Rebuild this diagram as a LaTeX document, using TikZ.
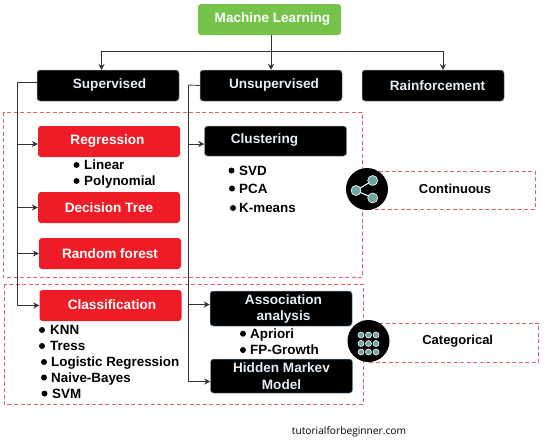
\documentclass[tikz,border=0pt]{standalone}
\usepackage{fontspec}
\setmainfont{Liberation Sans}
\newfontfamily\sitefont{Open Sans}
\usepackage{xcolor}
\usetikzlibrary{arrows.meta}
\definecolor{mlgreen}{HTML}{76C34A}
\definecolor{mlred}{HTML}{EE1C27}
\definecolor{mledge}{HTML}{7F9DB5}
\definecolor{mldash}{HTML}{E0636C}
\definecolor{mlteal}{HTML}{6FA5A5}
\definecolor{mltext}{HTML}{E4EDF7}
\definecolor{mlline}{HTML}{333333}
\tikzset{
  boxtext/.style={font=\fontsize{13.6}{16.5}\selectfont\bfseries, align=center},
  basebox/.style={boxtext, rounded corners=3pt, minimum width=142pt, minimum height=31pt, inner sep=0pt},
  blackbox/.style={basebox, fill=black, draw=mledge, line width=0.5pt, text=mltext},
  redbox/.style={basebox, fill=mlred, text=white},
  greenbox/.style={basebox, fill=mlgreen, text=white},
  itemtext/.style={font=\fontsize{13.4}{15}\selectfont\bfseries, anchor=west, inner sep=0pt, text height=12.5pt, text depth=3pt},
  sidetext/.style={font=\fontsize{13}{15}\selectfont\bfseries, inner sep=0pt},
  frame/.style={mldash, dashed, dash pattern=on 4pt off 2.5pt, line width=0.8pt},
  link/.style={mlline, line width=0.8pt},
  linkto/.style={link, -{Stealth[length=6pt,width=6pt]}},
  icondisc/.style={circle, fill=black, minimum size=42pt, inner sep=0pt},
  icondot/.style={circle, fill=mlteal, draw=white, line width=0.6pt, inner sep=0pt},
}
\begin{document}
\begin{tikzpicture}[x=1pt, y=-1pt]
  \useasboundingbox (0,0) rectangle (553,440);

  % dashed frames
  \draw[frame] (3,112) rectangle (362,277);
  \draw[frame] (4,284) rectangle (363,404);
  \draw[frame] (367,171) rectangle (535,209);
  \draw[frame] (369,323) rectangle (538.5,362);

  % boxes
  \node[greenbox, minimum width=143pt] (machine) at (269.5,19.5) {};
  \node[boxtext, text=white] (machinelabel) at (272.5,19.5) {Machine Learning};
  \node[blackbox] (supervised) at (108,85.5) {};
  \node[boxtext, text=mltext] (suplabel) at (109.5,85) {Supervised};
  \node[blackbox] (unsupervised) at (271,85.5) {};
  \node[boxtext, text=mltext] (unsuplabel) at (274,84.5) {Unsupervised};
  \node[blackbox] (rainforcement) at (433,85.5) {};
  \node[boxtext, text=mltext] (rainlabel) at (437.5,86) {Rainforcement};
  \node[redbox] (regression) at (109,141.5) {};
  \node[boxtext, text=white] (reglabel) at (107.5,141.5) {Regression};
  \node[redbox] (decision) at (109,207.5) {Decision Tree};
  \node[redbox] (forest) at (110,253.5) {Random forest};
  \node[redbox] (classification) at (110.5,305.5) {};
  \node[boxtext, text=white] (classlabel) at (112,305) {Classification};
  \node[blackbox, minimum height=30pt] (clustering) at (275.5,141) {};
  \node[boxtext, text=mltext] (clusterlabel) at (264.5,140.5) {Clustering};
  \node[blackbox, minimum height=35pt] (association) at (281,308.5) {};
  \node[boxtext, text=mltext] (assoclabel) at (283.5,309) {Association\\analysis};
  \node[blackbox, minimum height=34pt] (hidden) at (281.5,376) {Hidden Markev\\Model};

  % connectors
  \coordinate (supspine) at (17,82);
  \coordinate (unsspine) at (188,85);
  \coordinate (topbar) at (271,51.5);
  \draw[linkto] (machine.south -| topbar) -- (unsupervised.north -| topbar);
  \draw[linkto] (topbar) -- ++(-169.5,0) -- ++(0,18.5);
  \draw[linkto] (topbar) -- ++(172,0) -- ++(0,18.5);
  \draw[link] ([yshift=3.5pt]supervised.west) -- (supspine) -- (supspine |- classification.west);
  \draw[linkto] (supspine |- classification.west) -- (classification.west);
  \draw[linkto] (supspine |- forest.west) -- (forest.west);
  \draw[linkto] (supspine |- decision.west) -- (decision.west);
  \draw[linkto] (supspine |- 0,144) -- ([yshift=-2.5pt]regression.west);
  \draw[link] (unsupervised.west) -- (unsspine);
  \draw[linkto] (unsspine) |- ([yshift=-5.5pt]hidden.west);
  \draw[linkto] (unsspine |- 0,144) -- ([yshift=-3pt]clustering.west);
  \draw[linkto] (unsspine |- 0,304.5) -- ([yshift=4pt]association.west);

  % bullet lists
  \foreach \bx/\by/\tx/\lab/\name in {
    76.5/165/84/Linear/linear, 76.5/181/84/Polynomial/polynomial,
    231.5/170.5/239/SVD/svd, 232/188.5/239/PCA/pca, 233/208/239/K-means/kmeans,
    42/330/50/KNN/knn, 42/346/50/Tress/tress, 44/362/51/Logistic Regression/logistic,
    44/377.5/51/Naive-Bayes/naive, 44.5/393.5/52/SVM/svm,
    243/333.7/250/Apriori/apriori, 243/350/250/FP-Growth/fpgrowth}{
    \fill (\bx,\by) circle (3pt);
    \node[itemtext] (\name) at (\tx,\by) {\lab};
  }

  % side labels
  \node[sidetext] (continuous) at (455,188.5) {Continuous};
  \node[sidetext] (categorical) at (457.7,341) {Categorical};
  \node[inner sep=0pt, font=\fontsize{10.2}{12}\sitefont] (site) at (349,432) {tutorialforbeginner.com};

  % share icon
  \node[icondisc] (sharedisc) at (367,189) {};
  \draw[white, line width=1pt] (372.7,180.5) -- (356,190.5) -- (372.7,198);
  \foreach \px/\py/\name in {356/190.5/hub, 372.7/180.5/upper, 372.7/198/lower}{
    \node[icondot, minimum size=10pt] (\name) at (\px,\py) {};
  }

  % grid icon
  \node[icondisc] (griddisc) at (368.5,341) {};
  \foreach \px in {361,368.5,376}{
    \foreach \py in {335,343.5,352}{
      \node[icondot, minimum size=6pt] (dot\px-\py) at (\px,\py) {};
    }
  }
\end{tikzpicture}
\end{document}
